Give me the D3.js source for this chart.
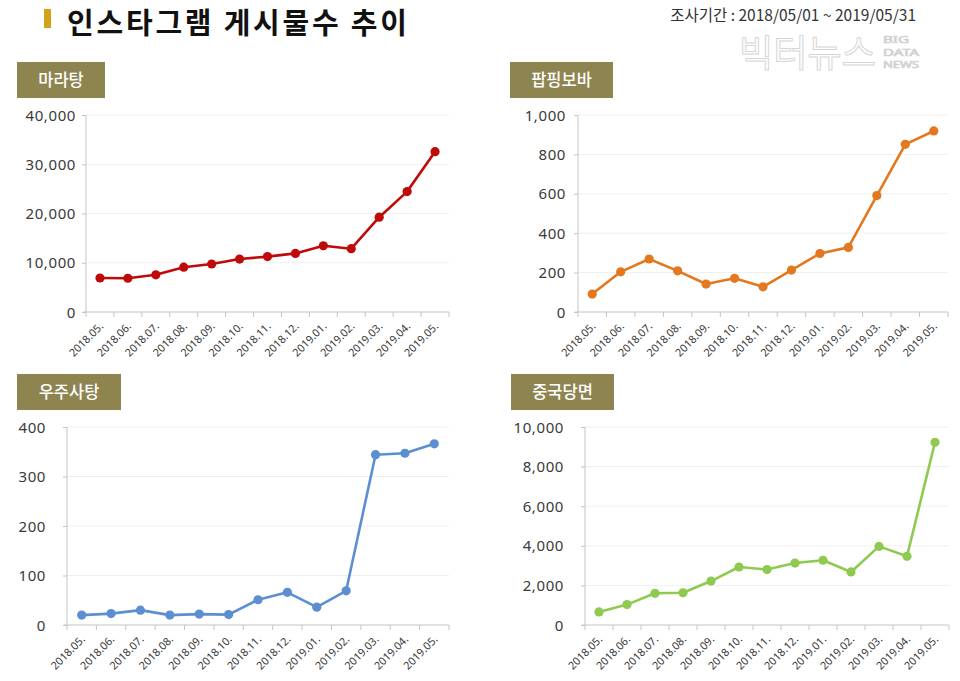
<!DOCTYPE html>
<html><head><meta charset="utf-8">
<script src="https://cdn.jsdelivr.net/npm/d3@7"></script>
<style>
html,body{margin:0;padding:0;background:#fff;}
svg{display:block;}
</style></head>
<body>
<svg id="c" width="960" height="681"></svg>
<script>
// ---------- data ----------
const months = ["2018.05.","2018.06.","2018.07.","2018.08.","2018.09.","2018.10.","2018.11.","2018.12.","2019.01.","2019.02.","2019.03.","2019.04.","2019.05."];
const malatang = [6900, 6850, 7550, 9100, 9750, 10750, 11250, 11900, 13450, 12850, 19250, 24450, 32550];
const poppingBoba = [91, 204, 269, 209, 142, 171, 128, 213, 297, 328, 591, 851, 919];
const spaceCandy = [20, 23, 30, 20, 22, 21, 51, 66, 36, 69, 344, 347, 366];
const glassNoodle = [660, 1030, 1600, 1630, 2220, 2930, 2800, 3130, 3270, 2680, 3970, 3470, 9230];
const ticksMalatang = [0, 10000, 20000, 30000, 40000];
const ticksBoba = [0, 200, 400, 600, 800, 1000];
const ticksCandy = [0, 100, 200, 300, 400];
const ticksNoodle = [0, 2000, 4000, 6000, 8000, 10000];
const names = ["마라탕", "팝핑보바", "우주사탕", "중국당면"];
const titleText = "인스타그램 게시물수 추이";
const periodText = "조사기간 : 2018/05/01 ~ 2019/05/31";
const watermarkMain = "빅터뉴스";
const watermarkSub = ["BIG", "DATA", "NEWS"];

// ---------- layout ----------
const panels = [
  {name: names[0], values: malatang, ticks: ticksMalatang, color: "#c00a0a",
   left: 86, right: 449, top: 115, bottom: 312, labelX: 76,
   box: {x: 17, y: 62, w: 88, h: 36}},
  {name: names[1], values: poppingBoba, ticks: ticksBoba, color: "#e3781f",
   left: 578, right: 948, top: 115, bottom: 312, labelX: 566,
   box: {x: 510, y: 62, w: 103, h: 36}},
  {name: names[2], values: spaceCandy, ticks: ticksCandy, color: "#5b8fd2",
   left: 67, right: 449, top: 427, bottom: 625, labelX: 46,
   box: {x: 17, y: 374, w: 104, h: 36}},
  {name: names[3], values: glassNoodle, ticks: ticksNoodle, color: "#8fca50",
   left: 585, right: 949, top: 427, bottom: 625, labelX: 564,
   box: {x: 511, y: 374, w: 103, h: 36}}
];

const svg = d3.select("#c");
const KFONT = "'Noto Sans CJK KR','Noto Sans',sans-serif";
const NFONT = "'Noto Sans','DejaVu Sans',sans-serif";

// title
svg.append("rect").attr("x", 44).attr("y", 9).attr("width", 7).attr("height", 19).attr("fill", "#d4a21a");
svg.append("text").attr("x", 67).attr("y", 33.5).text(titleText)
  .attr("font-family", KFONT).attr("font-weight", 700).attr("font-size", 29)
  .attr("textLength", 340).attr("lengthAdjust", "spacing").attr("fill", "#111");
svg.append("text").attr("x", 916).attr("y", 21).attr("text-anchor", "end").text(periodText)
  .attr("font-family", KFONT).attr("font-size", 15.5).attr("fill", "#333");

// watermark
svg.append("text").attr("x", 739).attr("y", 67).text(watermarkMain)
  .attr("font-family", KFONT).attr("font-weight", 400).attr("font-size", 37)
  .attr("fill", "#fff").attr("stroke", "#d6d6d6").attr("stroke-width", 1)
  .attr("textLength", 137).attr("lengthAdjust", "spacingAndGlyphs");
watermarkSub.forEach((w, i) => {
  svg.append("text").attr("x", 883).attr("y", 43 + i * 12.5).text(w)
    .attr("font-family", NFONT).attr("font-size", 9)
    .attr("textLength", w.length === 3 ? 26 : 36).attr("lengthAdjust", "spacingAndGlyphs")
    .attr("fill", "#fff").attr("stroke", "#d0d0d0").attr("stroke-width", 0.7);
});

const fmt = d3.format(",");

panels.forEach(p => {
  const g = svg.append("g");
  // label box
  g.append("rect").attr("x", p.box.x).attr("y", p.box.y).attr("width", p.box.w).attr("height", p.box.h)
    .attr("fill", "#8e844f");
  g.append("text").attr("x", p.box.x + p.box.w / 2).attr("y", p.box.y + p.box.h / 2 + 6)
    .attr("text-anchor", "middle").text(p.name)
    .attr("font-family", KFONT).attr("font-weight", 500).attr("font-size", 16.5).attr("fill", "#fff");

  const x = d3.scaleBand().domain(months).range([p.left, p.right]).padding(0);
  const y = d3.scaleLinear().domain([p.ticks[0], p.ticks[p.ticks.length - 1]]).range([p.bottom, p.top]);

  // gridlines
  g.selectAll(".grid").data(p.ticks.slice(1)).enter().append("line")
    .attr("x1", p.left).attr("x2", p.right)
    .attr("y1", d => y(d)).attr("y2", d => y(d))
    .attr("stroke", "#efefef").attr("stroke-width", 1);

  // y axis
  const ya = g.append("g").attr("transform", `translate(${p.left},0)`)
    .call(d3.axisLeft(y).tickValues(p.ticks).tickSize(4).tickFormat(""));
  ya.select(".domain").attr("stroke", "#c4c4c4").attr("d", `M0,${p.top}V${p.bottom}`);
  ya.selectAll(".tick line").attr("stroke", "#c4c4c4");
  g.selectAll(".ylab").data(p.ticks).enter().append("text")
    .attr("x", p.labelX).attr("y", d => y(d) + 5.5).attr("text-anchor", "end")
    .text(d => fmt(d))
    .attr("font-family", NFONT).attr("font-size", 15).attr("letter-spacing", 0.6).attr("fill", "#3a3a3a");

  // x axis
  const xa = g.append("g").attr("transform", `translate(0,${p.bottom})`)
    .call(d3.axisBottom(x).tickSize(0).tickFormat(""));
  xa.select(".domain").attr("stroke", "#c4c4c4").attr("d", `M${p.left - 3},0H${p.right}`);
  const bounds = months.map(m => x(m)).concat([p.right]);
  g.selectAll(".xt").data(bounds).enter().append("line")
    .attr("x1", d => d).attr("x2", d => d).attr("y1", p.bottom).attr("y2", p.bottom + 5)
    .attr("stroke", "#c4c4c4");
  g.selectAll(".xlab").data(months).enter().append("text")
    .attr("transform", d => `translate(${x(d) + x.bandwidth() / 2 + 4},${p.bottom + 15}) rotate(-45)`)
    .attr("text-anchor", "end").text(d => d)
    .attr("font-family", NFONT).attr("font-size", 10.8).attr("fill", "#3a3a3a");

  // line
  const line = d3.line().x((d, i) => x(months[i]) + x.bandwidth() / 2).y(d => y(d));
  g.append("path").datum(p.values).attr("d", line)
    .attr("fill", "none").attr("stroke", p.color).attr("stroke-width", 2.6).attr("stroke-linejoin", "round");
  g.selectAll(".pt").data(p.values).enter().append("circle")
    .attr("cx", (d, i) => x(months[i]) + x.bandwidth() / 2).attr("cy", d => y(d))
    .attr("r", 4.6).attr("fill", p.color);
});
</script>
</body></html>
